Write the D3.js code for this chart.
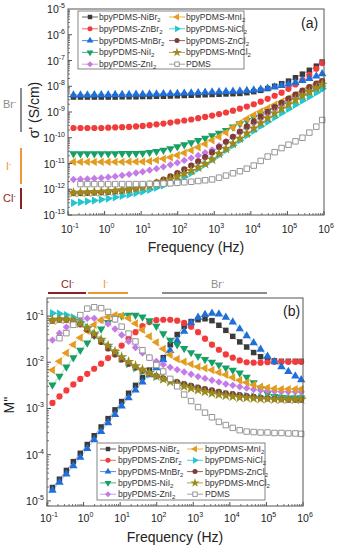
<!DOCTYPE html>
<html><head><meta charset="utf-8">
<script src="https://cdn.jsdelivr.net/npm/d3@7"></script>
<style>body{margin:0;background:#fff}svg{display:block}text{font-family:"Liberation Sans",Arial,sans-serif}</style>
</head><body><svg id="c" width="337" height="550"></svg>
<script>
// Frequencies (Hz)
const freq = [0.141,0.219,0.339,0.525,0.813,1.26,1.95,3.02,4.68,7.24,11.0,17.0,26.3,40.7,63.1,97.7,151,234,363,562,871,1350,2090,3240,5010,7760,12000,18600,28800,44700,69200,107000,166000,257000,398000,617000,891000];

// Series labels
const seriesBase = ["bpyPDMS-NiBr","bpyPDMS-ZnBr","bpyPDMS-MnBr","bpyPDMS-NiI","bpyPDMS-ZnI","bpyPDMS-MnI","bpyPDMS-NiCl","bpyPDMS-ZnCl","bpyPDMS-MnCl","PDMS"];
const seriesSub  = ["2","2","2","2","2","2","2","2","2",""];

// (a) log10 sigma' (S/cm)
const sigNiBr2 = [-8.42,-8.42,-8.42,-8.42,-8.42,-8.42,-8.42,-8.41,-8.41,-8.41,-8.40,-8.40,-8.39,-8.39,-8.38,-8.37,-8.36,-8.35,-8.34,-8.33,-8.32,-8.31,-8.30,-8.29,-8.28,-8.25,-8.21,-8.16,-8.09,-8.00,-7.90,-7.80,-7.67,-7.53,-7.38,-7.22,-7.06];
const sigZnBr2 = [-9.62,-9.62,-9.62,-9.62,-9.62,-9.61,-9.60,-9.59,-9.58,-9.56,-9.54,-9.51,-9.48,-9.45,-9.41,-9.37,-9.33,-9.29,-9.24,-9.19,-9.14,-9.08,-9.02,-8.95,-8.87,-8.79,-8.70,-8.60,-8.49,-8.37,-8.25,-8.10,-7.93,-7.76,-7.56,-7.32,-7.10];
const sigMnBr2 = [-8.34,-8.34,-8.34,-8.33,-8.33,-8.33,-8.32,-8.32,-8.32,-8.31,-8.31,-8.30,-8.30,-8.29,-8.29,-8.28,-8.27,-8.26,-8.25,-8.24,-8.23,-8.22,-8.21,-8.20,-8.19,-8.17,-8.15,-8.12,-8.08,-8.03,-7.97,-7.92,-7.86,-7.78,-7.70,-7.61,-7.52];
const sigNiI2  = [-10.62,-10.62,-10.62,-10.62,-10.62,-10.62,-10.62,-10.61,-10.61,-10.61,-10.60,-10.57,-10.53,-10.48,-10.42,-10.35,-10.27,-10.19,-10.10,-10.02,-9.92,-9.82,-9.71,-9.58,-9.45,-9.33,-9.20,-9.07,-8.94,-8.81,-8.69,-8.57,-8.46,-8.35,-8.24,-8.14,-8.06];
const sigZnI2  = [-11.62,-11.61,-11.60,-11.58,-11.56,-11.53,-11.50,-11.46,-11.42,-11.37,-11.32,-11.26,-11.20,-11.13,-11.05,-10.97,-10.88,-10.79,-10.69,-10.58,-10.47,-10.31,-10.15,-9.98,-9.80,-9.62,-9.44,-9.26,-9.08,-8.90,-8.74,-8.58,-8.43,-8.28,-8.14,-8.00,-7.88];
const sigMnI2  = [-10.94,-10.94,-10.94,-10.94,-10.94,-10.94,-10.94,-10.94,-10.93,-10.93,-10.93,-10.91,-10.87,-10.82,-10.76,-10.68,-10.59,-10.49,-10.37,-10.24,-10.10,-9.96,-9.80,-9.60,-9.43,-9.27,-9.12,-8.98,-8.85,-8.72,-8.60,-8.47,-8.34,-8.20,-8.06,-7.92,-7.80];
const sigNiCl2 = [-12.53,-12.50,-12.47,-12.44,-12.40,-12.36,-12.31,-12.26,-12.21,-12.15,-12.09,-12.02,-11.94,-11.85,-11.75,-11.64,-11.52,-11.37,-11.20,-11.03,-10.85,-10.67,-10.48,-10.29,-10.10,-9.91,-9.73,-9.55,-9.38,-9.21,-9.04,-8.88,-8.72,-8.56,-8.41,-8.25,-8.10];
const sigZnCl2 = [-12.15,-12.15,-12.14,-12.13,-12.12,-12.10,-12.08,-12.05,-12.01,-11.96,-11.90,-11.82,-11.73,-11.62,-11.50,-11.37,-11.23,-11.08,-10.92,-10.75,-10.57,-10.36,-10.16,-9.96,-9.76,-9.56,-9.37,-9.18,-8.99,-8.81,-8.64,-8.48,-8.32,-8.17,-8.03,-7.90,-7.80];
const sigMnCl2 = [-12.14,-12.13,-12.12,-12.11,-12.10,-12.08,-12.06,-12.03,-12.00,-11.96,-11.91,-11.85,-11.78,-11.70,-11.61,-11.51,-11.40,-11.28,-11.15,-11.01,-10.84,-10.62,-10.43,-10.23,-10.03,-9.83,-9.63,-9.43,-9.24,-9.05,-8.87,-8.70,-8.53,-8.37,-8.22,-8.07,-7.93];
const sigPDMS  = [null,-11.80,-11.80,-11.80,-11.80,-11.80,-11.80,-11.80,-11.80,-11.80,-11.80,-11.79,-11.79,-11.78,-11.77,-11.75,-11.73,-11.71,-11.68,-11.65,-11.62,-11.55,-11.47,-11.38,-11.30,-11.20,-11.08,-10.90,-10.73,-10.56,-10.40,-10.27,-10.14,-10.00,-9.80,-9.57,-9.31];

// (b) log10 M''
const mNiBr2 = [-4.71,-4.53,-4.34,-4.15,-3.97,-3.78,-3.59,-3.40,-3.22,-3.03,-2.85,-2.67,-2.50,-2.33,-2.17,-2.05,-1.90,-1.62,-1.40,-1.22,-1.12,-1.08,-1.06,-1.10,-1.20,-1.31,-1.44,-1.56,-1.67,-1.79,-1.88,-1.93,-1.97,-1.98,-1.98,-1.98,-1.98];
const mZnBr2 = [-2.88,-2.74,-2.61,-2.48,-2.36,-2.25,-2.14,-2.03,-1.91,-1.78,-1.64,-1.49,-1.35,-1.22,-1.13,-1.09,-1.08,-1.08,-1.10,-1.15,-1.23,-1.35,-1.49,-1.62,-1.73,-1.83,-1.90,-1.96,-2.00,-2.01,-2.01,-2.00,-1.99,-1.99,-1.99,-1.99,-1.99];
const mMnBr2 = [-4.77,-4.60,-4.42,-4.24,-4.06,-3.87,-3.68,-3.50,-3.31,-3.13,-2.95,-2.77,-2.60,-2.43,-2.27,-2.12,-1.95,-1.75,-1.53,-1.33,-1.15,-1.03,-0.97,-0.94,-0.96,-1.03,-1.13,-1.28,-1.43,-1.58,-1.72,-1.87,-1.99,-2.10,-2.20,-2.30,-2.38];
const mNiI2  = [-2.49,-2.30,-2.10,-1.90,-1.74,-1.58,-1.42,-1.28,-1.14,-1.05,-1.00,-0.98,-0.98,-1.02,-1.10,-1.22,-1.38,-1.52,-1.62,-1.70,-1.79,-1.87,-1.94,-2.00,-2.06,-2.12,-2.17,-2.23,-2.32,-2.44,-2.57,-2.68,-2.74,-2.76,-2.77,-2.77,-2.77];
const mZnI2  = [-1.52,-1.37,-1.24,-1.14,-1.08,-1.05,-1.05,-1.09,-1.17,-1.28,-1.41,-1.55,-1.68,-1.80,-1.90,-1.98,-2.05,-2.11,-2.16,-2.21,-2.26,-2.31,-2.35,-2.39,-2.43,-2.47,-2.50,-2.53,-2.56,-2.59,-2.61,-2.62,-2.63,-2.64,-2.64,-2.64,-2.64];
const mMnI2  = [-2.17,-1.98,-1.80,-1.62,-1.47,-1.32,-1.19,-1.09,-1.02,-0.98,-0.99,-1.05,-1.16,-1.30,-1.44,-1.57,-1.71,-1.84,-1.93,-1.99,-2.04,-2.10,-2.13,-2.17,-2.22,-2.27,-2.33,-2.39,-2.44,-2.49,-2.53,-2.55,-2.57,-2.58,-2.58,-2.58,-2.58];
const mNiCl2 = [-0.94,-0.95,-0.98,-1.03,-1.12,-1.24,-1.38,-1.52,-1.66,-1.80,-1.93,-2.04,-2.13,-2.20,-2.26,-2.31,-2.36,-2.40,-2.44,-2.48,-2.52,-2.56,-2.60,-2.63,-2.66,-2.68,-2.70,-2.72,-2.73,-2.74,-2.75,-2.76,-2.77,-2.77,-2.78,-2.78,-2.78];
const mZnCl2 = [-1.10,-1.08,-1.08,-1.11,-1.18,-1.29,-1.42,-1.56,-1.70,-1.83,-1.94,-2.03,-2.11,-2.18,-2.24,-2.30,-2.35,-2.39,-2.43,-2.47,-2.51,-2.55,-2.58,-2.61,-2.64,-2.67,-2.69,-2.71,-2.73,-2.75,-2.77,-2.78,-2.79,-2.80,-2.81,-2.81,-2.81];
const mMnCl2 = [-1.09,-1.07,-1.07,-1.10,-1.16,-1.26,-1.38,-1.51,-1.64,-1.77,-1.89,-1.99,-2.08,-2.16,-2.23,-2.30,-2.36,-2.42,-2.47,-2.52,-2.56,-2.60,-2.64,-2.67,-2.70,-2.72,-2.74,-2.76,-2.77,-2.78,-2.79,-2.79,-2.80,-2.80,-2.80,-2.80,-2.80];
const mPDMS  = [null,-1.48,-1.37,-1.19,-0.98,-0.84,-0.81,-0.83,-0.91,-1.07,-1.23,-1.38,-1.55,-1.74,-1.90,-2.06,-2.20,-2.36,-2.52,-2.70,-2.84,-2.97,-3.09,-3.19,-3.29,-3.36,-3.42,-3.47,-3.50,-3.51,-3.52,-3.52,-3.53,-3.53,-3.54,-3.54,-3.55];

// Tick exponents
const xTickExp = [-1,0,1,2,3,4,5,6];
const yTickExpA = [-13,-12,-11,-10,-9,-8,-7,-6,-5];
const yTickExpB = [-5,-4,-3,-2,-1];

// styles
const colors = ["#3b3b3b","#f23b3b","#1f6fd9","#16a066","#c57be6","#e29c1f","#22c5d0","#7e3a3c","#9c8a1c","#8a8a8a"];
const shapes = ["square","circle","tri","tridown","diamond","trileft","triright","circle","star","opensquare"];
const sigData = [sigNiBr2,sigZnBr2,sigMnBr2,sigNiI2,sigZnI2,sigMnI2,sigNiCl2,sigZnCl2,sigMnCl2,sigPDMS];
const mData = [mNiBr2,mZnBr2,mMnBr2,mNiI2,mZnI2,mMnI2,mNiCl2,mZnCl2,mMnCl2,mPDMS];

const svg = d3.select("#c");

function symPath(shape, s){
  const map = {square:[d3.symbolSquare,0,1], opensquare:[d3.symbolSquare,0,1], circle:[d3.symbolCircle,0,1], tri:[d3.symbolTriangle,0,1],
    tridown:[d3.symbolTriangle,180,1], trileft:[d3.symbolTriangle,-90,1], triright:[d3.symbolTriangle,90,1],
    diamond:[d3.symbolSquare,45,0.9], star:[d3.symbolStar,0,1.3]};
  const m = map[shape];
  return {d: d3.symbol().type(m[0]).size(s*m[2])(), rot: m[1]};
}
function drawMarker(g, x, y, i, s){
  const p = symPath(shapes[i], s);
  const el = g.append("path").attr("d", p.d).attr("transform", `translate(${x},${y}) rotate(${p.rot})`);
  if (shapes[i]==="opensquare") el.attr("fill","#fff").attr("stroke",colors[i]).attr("stroke-width",0.9);
  else el.attr("fill",colors[i]);
}
function powLabel(g, x, y, e, anchor){
  const t = g.append("text").attr("x",x).attr("y",y).attr("text-anchor",anchor).attr("font-size",10.5).attr("fill","#222");
  t.append("tspan").text("10");
  t.append("tspan").attr("dy",-5).attr("font-size",7).text(String(e));
}

function panel(x, y, data, yExps, xLabelY, minY, maxY){
  const g = svg.append("g");
  const [x0,x1] = x.range(); const [yb,yt] = y.range();
  data.forEach((arr,i)=>{
    const pts = freq.map((f,j)=> arr[j]===null?null:[x(f), y(Math.pow(10,arr[j]))]).filter(p=>p);
    g.append("path").attr("d", d3.line()(pts)).attr("fill","none").attr("stroke",colors[i]).attr("stroke-width",0.7).attr("stroke-opacity",0.6);
    pts.forEach(p=>drawMarker(g,p[0],p[1],i,30));
  });
  g.append("rect").attr("x",x0).attr("y",yt).attr("width",x1-x0).attr("height",yb-yt).attr("fill","none").attr("stroke","#555").attr("stroke-width",1);
  for (let e=-1;e<=6;e++){
    const px = x(Math.pow(10,e));
    g.append("line").attr("x1",px).attr("x2",px).attr("y1",yb).attr("y2",yb-4).attr("stroke","#555");
    if (e<6) for (let k=2;k<=9;k++){ const mx = x(k*Math.pow(10,e)); g.append("line").attr("x1",mx).attr("x2",mx).attr("y1",yb).attr("y2",yb-2).attr("stroke","#555").attr("stroke-width",0.8); }
  }
  xTickExp.forEach(e=>powLabel(g, x(Math.pow(10,e))+2, xLabelY, e, "middle"));
  for (let e=minY;e<=maxY;e++){
    const py = y(Math.pow(10,e));
    if (py>=yt-0.5 && py<=yb+0.5) g.append("line").attr("x1",x0).attr("x2",x0+4).attr("y1",py).attr("y2",py).attr("stroke","#555");
    for (let k=2;k<=9;k++){ const my = y(k*Math.pow(10,e)); if (my>yt && my<yb) g.append("line").attr("x1",x0).attr("x2",x0+2).attr("y1",my).attr("y2",my).attr("stroke","#555").attr("stroke-width",0.8); }
  }
  yExps.forEach(e=>powLabel(g, x0-3, y(Math.pow(10,e))+4, e, "end"));
  return g;
}

function legend(x0,y0,w,h,rowH,colX,textDx){
  const g = svg.append("g");
  g.append("rect").attr("x",x0).attr("y",y0).attr("width",w).attr("height",h).attr("fill","#fff").attr("stroke","#666").attr("stroke-width",0.8);
  seriesBase.forEach((nm,i)=>{
    const col = i<5?0:1, row = i%5;
    const cx = colX[col], cy = y0+6+row*rowH;
    g.append("line").attr("x1",cx-8).attr("x2",cx+8).attr("y1",cy).attr("y2",cy).attr("stroke",colors[i]).attr("stroke-width",0.8);
    drawMarker(g,cx,cy,i,20);
    const t = g.append("text").attr("x",cx+textDx).attr("y",cy+3).attr("font-size",8.6).attr("fill","#333");
    t.append("tspan").text(nm);
    if (seriesSub[i]) t.append("tspan").attr("dy",2).attr("font-size",6).text(seriesSub[i]);
  });
}

function supText(x,y,base,sup,color,size,anchor){
  const t = svg.append("text").attr("x",x).attr("y",y).attr("fill",color).attr("font-size",size).attr("text-anchor",anchor||"start");
  t.append("tspan").text(base);
  t.append("tspan").attr("dy",-size*0.4).attr("font-size",size*0.65).text(sup);
}

// ---------- panel (a)
const xA = d3.scaleLog().domain([0.1,1e6]).range([68,324]);
const yA = d3.scaleLog().domain([1e-13,1e-5]).range([215,9]);
panel(xA, yA, sigData, yTickExpA, 233, -13, -6);
legend(78,11,166,58,11.8,[90,177],9);
svg.append("text").attr("x",301).attr("y",28).attr("font-size",14).attr("fill","#222").text("(a)");
svg.append("text").attr("x",196).attr("y",252).attr("text-anchor","middle").attr("font-size",14).attr("fill","#222").text("Frequency  (Hz)");
svg.append("text").attr("transform","translate(39,110) rotate(-90)").attr("text-anchor","middle").attr("font-size",14).attr("fill","#222").text("σ' (S/cm)");
const annGrey="#8c8c8c", annOrange="#f39533", annRed="#8e1f26";
svg.append("line").attr("x1",21).attr("x2",21).attr("y1",88).attr("y2",132).attr("stroke",annGrey).attr("stroke-width",2);
supText(3,108,"Br","-",annGrey,11);
svg.append("line").attr("x1",21).attr("x2",21).attr("y1",148).attr("y2",184).attr("stroke",annOrange).attr("stroke-width",2);
supText(6,170,"I","-",annOrange,11);
svg.append("line").attr("x1",21).attr("x2",21).attr("y1",188).attr("y2",209).attr("stroke",annRed).attr("stroke-width",2);
supText(3,202,"Cl","-",annRed,11);

// ---------- panel (b)
const xB = d3.scaleLog().domain([0.1,1e6]).range([47,303]);
const yB = d3.scaleLog().domain([Math.pow(10,-5.11),Math.pow(10,-0.61)]).range([506,298]);
panel(xB, yB, mData, yTickExpB, 522, -6, -1);
legend(97,443,168,57,11.3,[108,195],10);
svg.append("text").attr("x",283).attr("y",316).attr("font-size",14).attr("fill","#222").text("(b)");
svg.append("text").attr("x",175).attr("y",542).attr("text-anchor","middle").attr("font-size",14).attr("fill","#222").text("Frequency  (Hz)");
svg.append("text").attr("transform","translate(14,405) rotate(-90)").attr("text-anchor","middle").attr("font-size",14).attr("fill","#222").text("M''");
svg.append("line").attr("x1",48).attr("x2",86).attr("y1",293).attr("y2",293).attr("stroke",annRed).attr("stroke-width",2);
supText(61,288,"Cl","-",annRed,11);
svg.append("line").attr("x1",88).attr("x2",128).attr("y1",293).attr("y2",293).attr("stroke",annOrange).attr("stroke-width",2);
supText(103,288,"I","-",annOrange,11);
svg.append("line").attr("x1",162).attr("x2",267).attr("y1",293).attr("y2",293).attr("stroke",annGrey).attr("stroke-width",2);
supText(211,288,"Br","-",annGrey,11);
</script></body></html>
